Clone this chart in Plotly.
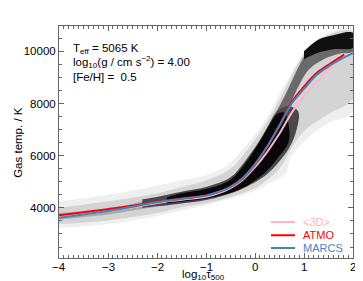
import plotly.graph_objects as go

# ---- curves (log10 tau500, gas temperature K) ----
tau_marcs = [-4, -3.5, -3, -2.5, -2, -1.5, -1, -0.75, -0.5, -0.25, 0, 0.25, 0.5, 0.75, 1, 1.25, 1.5, 1.75, 2]
T_marcs = [3620, 3750, 3880, 4040, 4220, 4340, 4470, 4610, 4810, 5150, 5680, 6350, 7150, 8000, 8560, 9080, 9420, 9700, 9930]

tau_atmo = [-4, -3.5, -3, -2.5, -2, -1.5, -1, -0.75, -0.5, -0.25, 0, 0.25, 0.5, 0.75, 1, 1.25, 1.5, 1.82]
T_atmo = [3720, 3830, 3950, 4080, 4240, 4360, 4480, 4610, 4810, 5130, 5660, 6350, 7180, 8060, 8650, 9160, 9480, 9870]

tau_3d = [-4, -3.5, -3, -2.5, -2, -1.5, -1, -0.75, -0.5, -0.25, 0, 0.25, 0.5, 0.75, 1, 1.25, 1.5, 1.75, 1.83]
T_3d = [3650, 3760, 3880, 4020, 4190, 4310, 4430, 4560, 4760, 5080, 5560, 6150, 6850, 7650, 8300, 8800, 9300, 9700, 9900]

series_names = ["<3D>", "ATMO", "MARCS"]
series_colors = ["#ffb6c1", "#ff0000", "#4682c0"]

# ---- <3D> temperature distribution, read as outline polygons per grey level ----
haze_tau = [-4, -3, -2, -1.5, -1, -0.6, -0.35, 0.2, 0.57, 1.08, 1.4, 2,
            2, 1.5, 1.08, 0.75, 0.61, 0.3, 0.06, -0.5, -1, -1.5, -2, -3, -4]
haze_T = [4250, 4500, 4850, 5050, 5250, 5600, 6040, 7320, 8600, 10130, 10600, 10850,
          7700, 7250, 6680, 6000, 5300, 4950, 4700, 4350, 4100, 3900, 3680, 3380, 3230]

grey_tau = [-4, -3, -2, -1.5, -1, -0.5, -0.25, 0.25, 0.6, 1.05, 1.4, 2,
            2, 1.5, 1, 0.75, 0.5, 0.2, 0, -0.5, -1, -1.5, -2, -3, -4]
grey_T = [4000, 4250, 4550, 4800, 5050, 5500, 6000, 7300, 8500, 10050, 10550, 10750,
          8200, 7600, 6950, 6300, 5500, 5000, 4750, 4420, 4180, 4020, 3800, 3520, 3380]

mid_tau = [-4, -3, -2.5, -2, -1.7, -1.7, -2, -2.5, -3, -4]
mid_T = [3800, 4000, 4160, 4380, 4480, 4150, 4050, 3900, 3750, 3560]

ribbon_tau = [-2.3, -2, -1.5, -1, -0.5, -0.2, 0.1, 0.3, 0.45, 0.65, 0.88, 0.85, 0.7, 0.55, 0.25, -0.3, -1, -1.5, -2, -2.3]
ribbon_T = [4330, 4420, 4620, 4800, 5170, 5800, 6600, 7250, 7700, 7900, 7700, 7000, 6300, 5900, 5300, 4700, 4300, 4170, 4060, 4000]

core_tau = [-1.8, -1.5, -1, -0.5, -0.2, 0.1, 0.3, 0.45, 0.6, 0.7, 0.68, 0.48, 0.2, -0.3, -1, -1.5, -1.8]
core_T = [4400, 4560, 4720, 5080, 5700, 6550, 7200, 7600, 7650, 7000, 6500, 5950, 5350, 4720, 4350, 4240, 4170]

ridge_tau = [0.3, 0.5, 0.7, 0.9, 1.1, 1.4, 1.7, 2, 2, 1.7, 1.4, 1.1, 0.9, 0.75, 0.55, 0.4]
ridge_T = [7250, 7900, 8650, 9450, 10050, 10450, 10620, 10700, 10000, 9900, 9700, 9300, 8700, 8100, 7300, 6900]

ridgecore_tau = [1.0, 1.3, 1.6, 2, 2, 1.6, 1.3, 1.0]
ridgecore_T = [10000, 10450, 10620, 10700, 10150, 10080, 9950, 9700]

x_ticks = [-4, -3, -2, -1, 0, 1, 2]
x_ticklabels = ["\u22124", "\u22123", "\u22122", "\u22121", "0", "1", "2"]
y_ticks = [4000, 6000, 8000, 10000]
y_ticklabels = ["4000", "6000", "8000", "10000"]

FONT = "Liberation Sans, Arial, Helvetica, sans-serif"
fig = go.Figure()

for tx, ty, col in [(haze_tau, haze_T, "#efefef"),
                    (grey_tau, grey_T, "#d4d4d4"),
                    (mid_tau, mid_T, "#a8a8a8"),
                    (ridge_tau, ridge_T, "#6a6a6a"),
                    (ribbon_tau, ribbon_T, "#4a4a4a"),
                    (core_tau, core_T, "#080808"),
                    (ridgecore_tau, ridgecore_T, "#101010")]:
    fig.add_trace(go.Scatter(x=tx, y=ty, mode="lines", fill="toself", fillcolor=col,
                             line=dict(width=0, color=col, shape="spline", smoothing=1.0),
                             showlegend=False, hoverinfo="skip"))

for tx, ty, nm, col in [(tau_3d, T_3d, series_names[0], series_colors[0]),
                        (tau_atmo, T_atmo, series_names[1], series_colors[1]),
                        (tau_marcs, T_marcs, series_names[2], series_colors[2])]:
    fig.add_trace(go.Scatter(x=tx, y=ty, mode="lines", name=nm, showlegend=False,
                             line=dict(color=col, width=2, shape="spline")))

# manual legend (compact rows like the original)
leg_y = [0.155, 0.098, 0.043]
for nm, col, yy in zip(series_names, series_colors, leg_y):
    fig.add_shape(type="line", xref="paper", yref="paper", x0=0.721, x1=0.803, y0=yy, y1=yy,
                  line=dict(color=col, width=2))
    fig.add_annotation(x=0.823, y=yy, xref="paper", yref="paper", xanchor="left", yanchor="middle",
                       showarrow=False, text=nm.replace("<", "&lt;").replace(">", "&gt;"),
                       font=dict(family=FONT, size=11, color=col))

axcol = "#666666"
fig.update_xaxes(range=[-4, 2], tickvals=x_ticks, showticklabels=False, ticks="inside", ticklen=5,
                 tickcolor=axcol, showline=True, linecolor=axcol, linewidth=1, mirror="ticks",
                 showgrid=False, zeroline=False,
                 minor=dict(dtick=0.1, ticks="inside", ticklen=3, tickcolor=axcol, showgrid=False))
fig.update_yaxes(range=[2080, 10970], tickvals=y_ticks, ticktext=y_ticklabels, ticks="inside", ticklen=5,
                 tickcolor=axcol, showline=True, linecolor=axcol, linewidth=1, mirror="ticks",
                 showgrid=False, zeroline=False,
                 minor=dict(dtick=500, ticks="inside", ticklen=3, tickcolor=axcol, showgrid=False),
                 tickfont=dict(family=FONT, size=11.5, color="black"))

# x tick labels placed close under the axis, as in the original
for tv, tl in zip(x_ticks, x_ticklabels):
    fig.add_annotation(x=tv, y=-0.04, xref="x", yref="paper", xanchor="center", yanchor="middle",
                       showarrow=False, text=tl, font=dict(family=FONT, size=11.5, color="black"))

ann = dict(xref="paper", yref="paper", showarrow=False, xanchor="left", yanchor="middle",
           font=dict(family=FONT, size=11.5, color="black"))
fig.add_annotation(x=0.041, y=0.901, text="T<sub>eff</sub> = 5065 K", **ann)
fig.add_annotation(x=0.041, y=0.845, text="log<sub>10</sub>(g / cm s<sup>\u22122</sup>) = 4.00", **ann)
fig.add_annotation(x=0.041, y=0.782, text="[Fe/H] =  0.5", **ann)
fig.add_annotation(x=0.49, y=-0.074, xanchor="center", yanchor="middle", xref="paper", yref="paper",
                   showarrow=False, text="log<sub>10</sub>\u03c4<sub>500</sub>",
                   font=dict(family=FONT, size=11.5, color="black"))
fig.add_annotation(x=-0.14, y=0.5, xanchor="center", yanchor="middle", xref="paper", yref="paper",
                   showarrow=False, text="Gas temp. / K", textangle=-90,
                   font=dict(family=FONT, size=11.5, color="black"))

fig.update_layout(width=363, height=281, margin=dict(l=51, r=18, t=18, b=31),
                  paper_bgcolor="white", plot_bgcolor="white", showlegend=False)
fig.write_html("out.html")
